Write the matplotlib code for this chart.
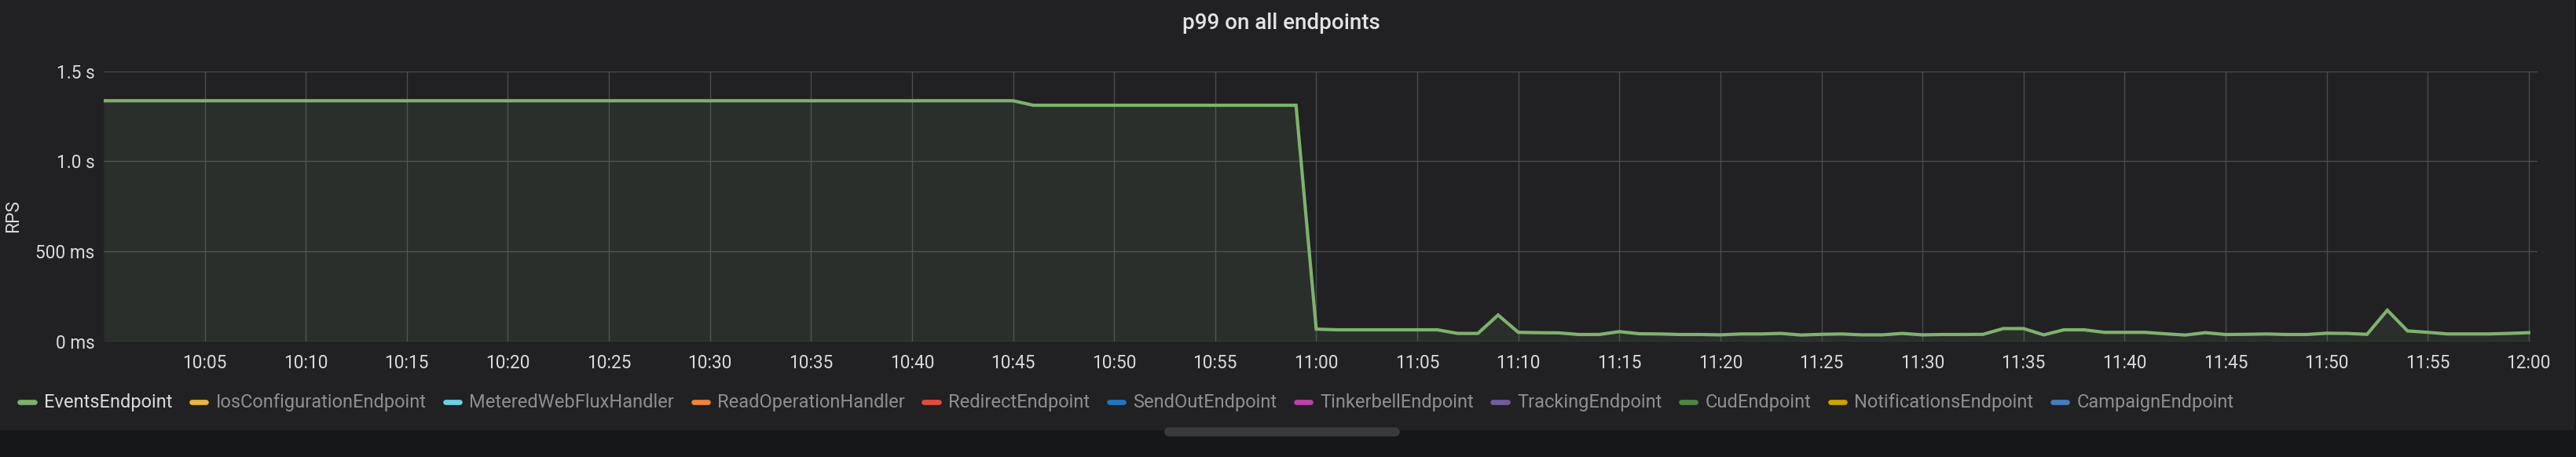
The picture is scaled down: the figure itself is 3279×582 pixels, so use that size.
import numpy as np
import pandas as pd
import matplotlib
matplotlib.use("Agg")
import matplotlib.pyplot as plt
import matplotlib.dates as mdates
from matplotlib.lines import Line2D
from matplotlib.patches import Rectangle
from matplotlib.ticker import FixedLocator, FuncFormatter

plt.rcParams['font.family'] = ['Roboto', 'DejaVu Sans']

# p99 latency of EventsEndpoint, one point per minute 10:00 .. 12:00 (seconds)
times = pd.date_range("2024-01-01 10:00", "2024-01-01 12:00", freq="1min")
p99 = [
    # 10:00 - 10:45
    1.336, 1.336, 1.336, 1.336, 1.336, 1.336, 1.336, 1.336, 1.336, 1.336,
    1.336, 1.336, 1.336, 1.336, 1.336, 1.336, 1.336, 1.336, 1.336, 1.336,
    1.336, 1.336, 1.336, 1.336, 1.336, 1.336, 1.336, 1.336, 1.336, 1.336,
    1.336, 1.336, 1.336, 1.336, 1.336, 1.336, 1.336, 1.336, 1.336, 1.336,
    1.336, 1.336, 1.336, 1.336, 1.336, 1.336,
    # 10:46 - 10:59
    1.311, 1.311, 1.311, 1.311, 1.311, 1.311, 1.311, 1.311, 1.311, 1.311,
    1.311, 1.311, 1.311, 1.311,
    # 11:00 - 12:00
    0.068, 0.064, 0.064, 0.064, 0.064, 0.064, 0.064, 0.044, 0.044, 0.146,
    0.050, 0.048, 0.047, 0.038, 0.038, 0.054, 0.042, 0.041, 0.038, 0.038,
    0.036, 0.041, 0.041, 0.044, 0.035, 0.039, 0.041, 0.036, 0.036, 0.044,
    0.036, 0.038, 0.038, 0.039, 0.071, 0.071, 0.036, 0.064, 0.064, 0.050,
    0.050, 0.050, 0.042, 0.035, 0.048, 0.038, 0.039, 0.041, 0.038, 0.038,
    0.045, 0.044, 0.039, 0.173, 0.058, 0.050, 0.041, 0.041, 0.041, 0.044,
    0.048,
]

y_ticks = [0, 0.5, 1.0, 1.5]

series_names = ["EventsEndpoint", "IosConfigurationEndpoint", "MeteredWebFluxHandler",
                "ReadOperationHandler", "RedirectEndpoint", "SendOutEndpoint",
                "TinkerbellEndpoint", "TrackingEndpoint", "CudEndpoint",
                "NotificationsEndpoint", "CampaignEndpoint"]
series_colors = ["#7EB26D", "#EAB839", "#6ED0E0", "#EF843C", "#E24D42", "#1F78C1",
                 "#BA43A9", "#705DA0", "#508642", "#CCA300", "#447EBC"]

W, H = 3280, 582
PANEL = "#212124"
TEXT = "#d8d9da"
GRID = "#4a4b4e"
TICK_FS = 16.3
LEGEND_FS = 17.0


def fx(px):
    return px / W


def fy(py):
    return 1 - py / H


fig = plt.figure(figsize=(W / 100, H / 100), dpi=100, facecolor="#161719")
fig.add_artist(Rectangle((0, fy(548)), fx(3277), 548 / H, transform=fig.transFigure,
                         facecolor=PANEL, edgecolor="none", zorder=-10))

ax = fig.add_axes([fx(132), fy(434.7), fx(3230) - fx(132), (434.7 - 90.7) / H])
ax.set_facecolor("none")

ax.plot(times, p99, color=series_colors[0], lw=3.0, zorder=3, solid_joinstyle="miter")
ax.fill_between(times, p99, 0, color=series_colors[0], alpha=0.1, lw=0, zorder=2)

ax.set_xlim(times[0], times[-1] + pd.Timedelta(seconds=26))
ax.set_ylim(0, 1.5)

ax.set_xticks([t for t in times if t.minute % 5 == 0 and t != times[0]])
ax.xaxis.set_major_formatter(mdates.DateFormatter("%H:%M"))
ax.yaxis.set_major_locator(FixedLocator(y_ticks))
ax.yaxis.set_major_formatter(FuncFormatter(
    lambda v, _: f"{v:.1f} s" if v >= 1 else f"{int(round(v * 1000))} ms"))

ax.grid(True, color=GRID, lw=1.0, zorder=1)
ax.set_axisbelow(True)
for s in ax.spines.values():
    s.set_visible(False)
ax.tick_params(axis="x", length=0, pad=11.8, labelsize=TICK_FS, labelcolor=TEXT)
ax.tick_params(axis="y", length=0, pad=8.1, labelsize=TICK_FS, labelcolor=TEXT)

fig.text(fx(1631), fy(37.3), "p99 on all endpoints", ha="center", va="baseline",
         fontsize=20, fontweight=500, color="#e3e3e4")
fig.text(fx(17), fy(275), "RPS", rotation=90, ha="center", va="center",
         fontsize=TICK_FS, color=TEXT)

# legend row
renderer = fig.canvas.get_renderer()
x = 22
for i, (name, col) in enumerate(zip(series_names, series_colors)):
    fig.add_artist(Line2D([fx(x + 3.4), fx(x + 21.6)], [fy(511.7), fy(511.7)],
                          transform=fig.transFigure, color=col, lw=4.8,
                          solid_capstyle="round"))
    t = fig.text(fx(x + 34), fy(519.3), name, va="baseline", ha="left", fontsize=LEGEND_FS,
                 color=TEXT if i == 0 else "#8e8e8e")
    x = x + 34 + t.get_window_extent(renderer).width + 21

# scrollbar handle
fig.add_artist(Line2D([fx(1488), fx(1776)], [fy(550), fy(550)], transform=fig.transFigure,
                      color="#393a3e", lw=8.4, solid_capstyle="round"))
for k in range(33):
    fig.add_artist(Rectangle((fx(1501.5 + 8 * k), fy(551.7)), 3.3 / W, 3.3 / H,
                             transform=fig.transFigure, facecolor="#4e4f53",
                             edgecolor="none"))

fig.savefig("out.png", dpi=100, facecolor=fig.get_facecolor())
